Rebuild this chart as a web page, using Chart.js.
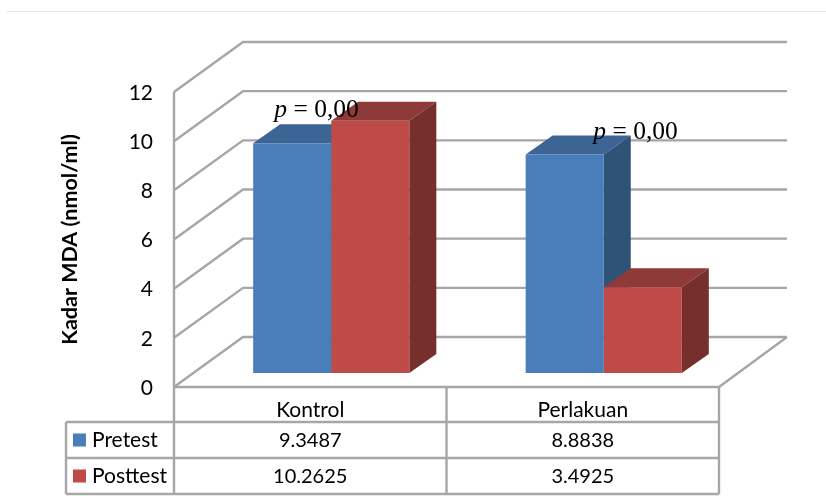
<!DOCTYPE html>
<html>
<head>
<meta charset="utf-8">
<style>
  html, body { margin: 0; padding: 0; background: #fff; }
  #wrap { position: relative; width: 826px; height: 500px; }
</style>
<script src="https://cdn.jsdelivr.net/npm/chart.js@4"></script>
</head>
<body>
<div id="wrap"><canvas id="chart" width="826" height="500"></canvas></div>
<script>
const categories = ['Kontrol', 'Perlakuan'];
const pretest = [9.3487, 8.8838];
const posttest = [10.2625, 3.4925];
const yTicks = [0, 2, 4, 6, 8, 10, 12];
const pLabels = ['0,00', '0,00'];

const blue = { front: '#4a7ebb', top: '#3c6494', side: '#2f5377' };
const red = { front: '#be4b48', top: '#8e3a38', side: '#772f2d' };

const GRID = '#a6a6a6';
const GRID_WIDTH = 2.4;
const LABEL_FONT = 'Lato, "Open Sans", sans-serif';

// 3D box: wall depth, and how far the bars stand off the front edge
const DEPTH_X = 69, DEPTH_Y = 50;
const BAR_DX = 21, BAR_DY = 14;
const BAR_DEPTH_X = 27, BAR_DEPTH_Y = 19;

function poly(ctx, color, pts) {
    ctx.fillStyle = color;
    ctx.beginPath();
    pts.forEach((p, i) => i ? ctx.lineTo(p[0], p[1]) : ctx.moveTo(p[0], p[1]));
    ctx.closePath();
    ctx.fill();
}

function line(ctx, pts) {
    ctx.beginPath();
    pts.forEach((p, i) => i ? ctx.lineTo(p[0], p[1]) : ctx.moveTo(p[0], p[1]));
    ctx.stroke();
}

// walls, floor and data table sit behind the bars
const box3d = {
    id: 'box3d',
    beforeDatasetsDraw(chart) {
        const { ctx, chartArea: a, scales: { y } } = chart;
        const backRight = 787;
        ctx.save();

        // thin rule across the top of the page
        ctx.strokeStyle = '#e8e8e8';
        ctx.lineWidth = 1;
        line(ctx, [[6, 11.5], [826, 11.5]]);

        ctx.strokeStyle = GRID;
        ctx.lineWidth = GRID_WIDTH;
        yTicks.forEach(v => {
            const py = y.getPixelForValue(v);
            line(ctx, [[a.left, py], [a.left + DEPTH_X, py - DEPTH_Y], [backRight, py - DEPTH_Y]]);
        });
        // left edge runs on down through the table
        line(ctx, [[a.left, a.top], [a.left, 494]]);
        // front of the floor
        const y0 = y.getPixelForValue(0);
        line(ctx, [[a.left, y0], [a.right, y0], [backRight, y0 - DEPTH_Y]]);

        // tops and sides go down first, blue then red, so red's front can cover blue's side
        ctx.translate(BAR_DX, -BAR_DY);
        chart.data.datasets.forEach((ds, i) => {
            chart.getDatasetMeta(i).data.forEach(bar => {
                const l = bar.x - bar.width / 2, r = bar.x + bar.width / 2;
                const t = bar.y, b = bar.base;
                poly(ctx, ds.faces.top, [[l, t], [r, t], [r + BAR_DEPTH_X, t - BAR_DEPTH_Y], [l + BAR_DEPTH_X, t - BAR_DEPTH_Y]]);
                poly(ctx, ds.faces.side, [[r, t], [r + BAR_DEPTH_X, t - BAR_DEPTH_Y], [r + BAR_DEPTH_X, b - BAR_DEPTH_Y], [r, b]]);
            });
        });
        ctx.restore();
    },
    beforeDatasetDraw(chart) {
        chart.ctx.save();
        chart.ctx.translate(BAR_DX, -BAR_DY);
    },
    afterDatasetDraw(chart) {
        chart.ctx.restore();
    },
    afterDraw(chart) {
        const { ctx, chartArea: a, scales: { x } } = chart;
        ctx.save();

        // data table grid
        const tableLeft = 66, rows = [422, 458, 494];
        const mid = (x.getPixelForValue(0) + x.getPixelForValue(1)) / 2;
        ctx.strokeStyle = GRID;
        ctx.lineWidth = GRID_WIDTH;
        rows.forEach(ry => line(ctx, [[tableLeft, ry], [a.right, ry]]));
        line(ctx, [[tableLeft, rows[0]], [tableLeft, rows[2]]]);
        line(ctx, [[mid, a.bottom], [mid, rows[2]]]);
        line(ctx, [[a.right, a.bottom], [a.right, rows[2]]]);

        // table rows: legend key, series name, values
        ctx.textBaseline = 'middle';
        chart.data.datasets.forEach((ds, i) => {
            const cy = (rows[i] + rows[i + 1]) / 2 + 0.5;
            ctx.fillStyle = ds.faces.front;
            ctx.fillRect(73, cy - 7, 13, 13);
            ctx.fillStyle = '#000';
            ctx.textAlign = 'left';
            ctx.font = '21px ' + LABEL_FONT;
            ctx.fillText(ds.label, 92, cy);
            ctx.textAlign = 'center';
            ctx.font = '20px ' + LABEL_FONT;
            ds.data.forEach((v, j) => ctx.fillText(v.toFixed(4), x.getPixelForValue(j), cy));
        });

        // significance notes over each pair of bars
        const notes = [[-36, 117], [10.5, 139]];
        ctx.textAlign = 'left';
        ctx.textBaseline = 'alphabetic';
        ctx.fillStyle = '#000';
        pLabels.forEach((txt, i) => {
            const nx = x.getPixelForValue(i) + notes[i][0];
            const ny = notes[i][1];
            ctx.font = 'italic 25.5px "Liberation Serif", serif';
            ctx.fillText('p', nx, ny);
            const pw = ctx.measureText('p ').width;
            ctx.font = '25.5px "Liberation Serif", serif';
            ctx.fillText('= ' + txt, nx + pw, ny);
        });
        ctx.restore();
    }
};

new Chart(document.getElementById('chart').getContext('2d'), {
    type: 'bar',
    data: {
        labels: categories,
        datasets: [
            { label: 'Pretest', data: pretest, backgroundColor: blue.front, faces: blue, clip: false },
            { label: 'Posttest', data: posttest, backgroundColor: red.front, faces: red, clip: false }
        ]
    },
    options: {
        responsive: false,
        animation: false,
        layout: { padding: { top: 92, right: 107, bottom: 0, left: 0 } },
        datasets: { bar: { categoryPercentage: 0.573, barPercentage: 1 } },
        plugins: { legend: { display: false }, tooltip: { enabled: false } },
        scales: {
            x: {
                afterFit(scale) { scale.height = 113; },
                grid: { display: false },
                border: { display: false },
                ticks: { color: '#000', padding: 3, font: { family: LABEL_FONT, size: 21 } }
            },
            y: {
                min: 0,
                max: 12,
                afterFit(scale) { scale.width = 174; },
                afterBuildTicks(scale) { scale.ticks = yTicks.map(v => ({ value: v })); },
                grid: { display: false },
                border: { display: false },
                ticks: { color: '#000', padding: 13, labelOffset: 1, font: { family: LABEL_FONT, size: 21 } },
                title: {
                    display: true,
                    text: 'Kadar MDA (nmol/ml)',
                    color: '#000',
                    padding: { top: 57, bottom: 0 },
                    font: { family: LABEL_FONT, size: 21.5, weight: 'bold' }
                }
            }
        }
    },
    plugins: [box3d]
});
</script>
</body>
</html>
